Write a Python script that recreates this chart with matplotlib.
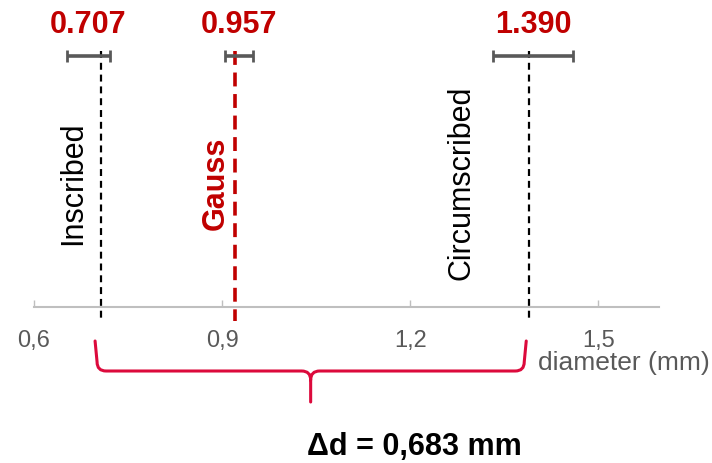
import matplotlib.pyplot as plt
from matplotlib.path import Path
from matplotlib.patches import PathPatch
from matplotlib.ticker import FuncFormatter

plt.rcParams['font.family'] = ['Liberation Sans', 'DejaVu Sans']
plt.rcParams['lines.scale_dashes'] = False

# diametros medidos (mm)
metodos = ['Inscribed', 'Gauss', 'Circumscribed']
valores = [0.707, 0.957, 1.390]
pos_linha = [0.707, 0.920, 1.390]
err_min = [0.652, 0.904, 1.332]
err_max = [0.722, 0.949, 1.460]
ticks = [0.6, 0.9, 1.2, 1.5]

VERMELHO = '#c00000'
CHAVE = '#dc0a3c'
CINZA = '#595959'

fig = plt.figure(figsize=(7.12, 4.64), dpi=100)
# eixo ocupa a altura toda, y em "pixels" (0 = topo)
ax = fig.add_axes([34 / 712, 0, 625 / 712, 1])
xmin, xmax = 0.6, 1.597
ax.set_xlim(xmin, xmax)
ax.set_ylim(464, 0)
px = (xmax - xmin) / 625  # unidade de x por pixel

for s in ['top', 'left', 'right']:
    ax.spines[s].set_visible(False)
ax.spines['bottom'].set_position(('data', 308))
ax.spines['bottom'].set_color('#bfbfbf')
ax.spines['bottom'].set_linewidth(1.5)
ax.set_yticks([])
ax.set_xticks(ticks)
ax.xaxis.set_major_formatter(FuncFormatter(lambda v, p: f'{v:.1f}'.replace('.', ',')))
ax.tick_params(axis='x', direction='in', length=5, width=1, color='#bfbfbf',
               labelsize=17, labelcolor=CINZA, pad=16)
ax.text(xmax + 51 * px, 370, 'diameter (mm)', fontsize=19, color=CINZA,
        ha='right', va='baseline')

# linhas tracejadas + barras de erro
deslocamento = [20, 11, 60]  # distancia do rotulo vertical ate a linha (px)
for i, m in enumerate(metodos):
    gauss = m == 'Gauss'
    ax.plot([pos_linha[i], pos_linha[i]], [52, 322],
            color=VERMELHO if gauss else 'black',
            lw=2.6 if gauss else 1.6,
            dashes=(10, 5.5) if gauss else (5, 3.5), zorder=2)
    centro = (err_min[i] + err_max[i]) / 2
    ax.errorbar(centro, 57, xerr=[[centro - err_min[i]], [err_max[i] - centro]],
                fmt='none', ecolor=CINZA, elinewidth=2.6, capsize=4,
                capthick=2, zorder=3)
    ax.text(centro, 33, f'{valores[i]:.3f}', fontsize=22, fontweight='bold',
            color=VERMELHO, ha='center', va='baseline')
    ax.text(pos_linha[i] - deslocamento[i] * px, 183, m, rotation=90,
            rotation_mode='anchor', ha='center', va='baseline', fontsize=22,
            color=VERMELHO if gauss else 'black',
            fontweight='bold' if gauss else 'normal')

# chave entre inscrito e circunscrito
x0 = pos_linha[0] - 6 * px
x1 = pos_linha[2] - 3 * px
xm = (x0 + x1) / 2
y_top, y_mid, y_tip, r = 342, 372, 403, 9
verts = [
    (x0, y_top), (x0 + 2 * px, y_mid - r),
    (x0 + 2 * px, y_mid), (x0 + 2 * px + r * px, y_mid),
    (xm - r * px, y_mid),
    (xm, y_mid), (xm, y_mid + r),
    (xm, y_tip),
    (xm, y_mid + r),
    (xm, y_mid), (xm + r * px, y_mid),
    (x1 - 2 * px - r * px, y_mid),
    (x1 - 2 * px, y_mid), (x1 - 2 * px, y_mid - r),
    (x1, y_top),
]
codes = [Path.MOVETO, Path.LINETO,
         Path.CURVE3, Path.CURVE3,
         Path.LINETO,
         Path.CURVE3, Path.CURVE3,
         Path.LINETO,
         Path.MOVETO,
         Path.CURVE3, Path.CURVE3,
         Path.LINETO,
         Path.CURVE3, Path.CURVE3,
         Path.LINETO]
ax.add_patch(PathPatch(Path(verts, codes), fill=False, edgecolor=CHAVE,
                       lw=2.2, capstyle='round', joinstyle='round', clip_on=False))

delta = valores[2] - valores[0]
ax.text(xm + 104 * px, 455, f'Δd = {delta:.3f} mm'.replace('.', ','),
        fontsize=22, fontweight='bold', color='black', ha='center', va='baseline')

fig.savefig('out.png', dpi=100)
